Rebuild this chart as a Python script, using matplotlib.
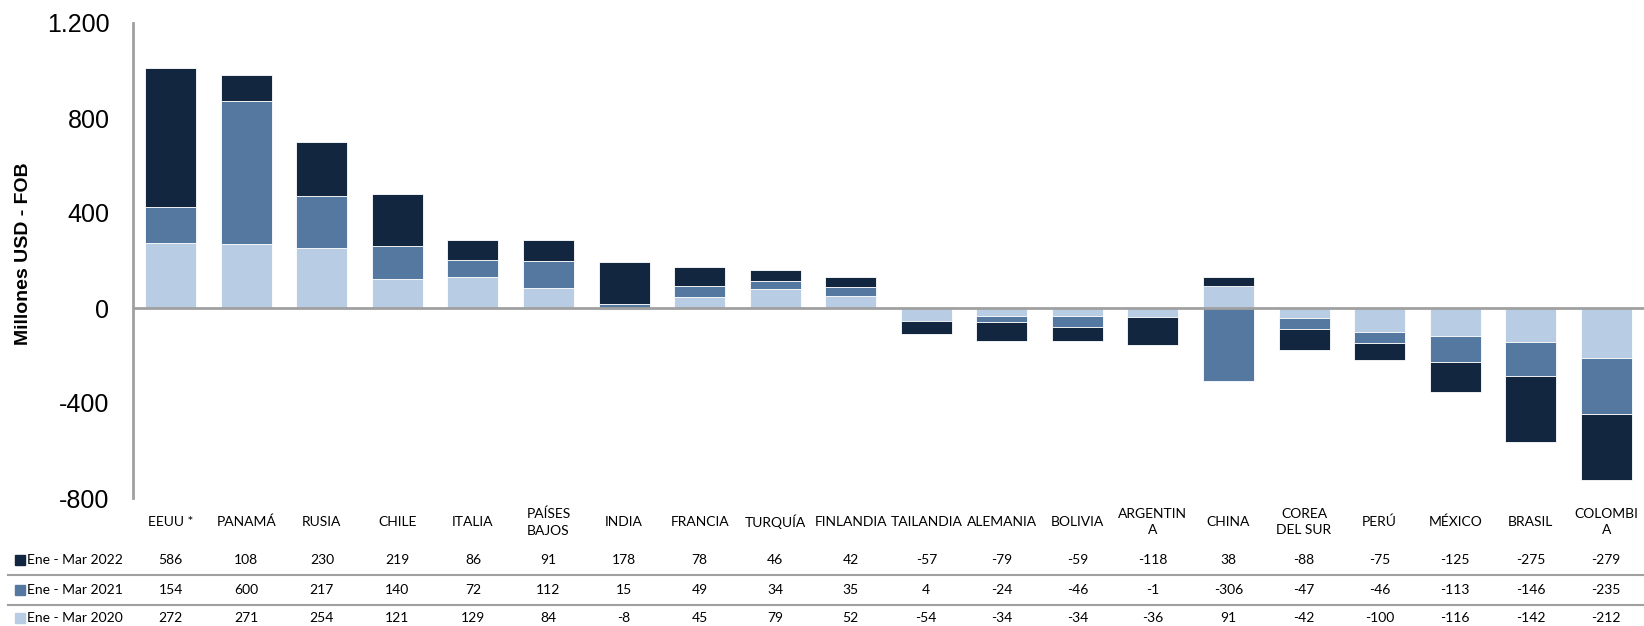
import numpy as np
import matplotlib.pyplot as plt
from matplotlib.patches import Rectangle
from matplotlib.lines import Line2D
from matplotlib.ticker import FuncFormatter
from matplotlib.transforms import blended_transform_factory

countries = ["EEUU *", "PANAMÁ", "RUSIA", "CHILE", "ITALIA", "PAÍSES\nBAJOS",
             "INDIA", "FRANCIA", "TURQUÍA", "FINLANDIA", "TAILANDIA", "ALEMANIA",
             "BOLIVIA", "ARGENTIN\nA", "CHINA", "COREA\nDEL SUR", "PERÚ",
             "MÉXICO", "BRASIL", "COLOMBI\nA"]
v2022 = [586, 108, 230, 219, 86, 91, 178, 78, 46, 42, -57, -79, -59, -118, 38,
         -88, -75, -125, -275, -279]
v2021 = [154, 600, 217, 140, 72, 112, 15, 49, 34, 35, 4, -24, -46, -1, -306,
         -47, -46, -113, -146, -235]
v2020 = [272, 271, 254, 121, 129, 84, -8, 45, 79, 52, -54, -34, -34, -36, 91,
         -42, -100, -116, -142, -212]
labels = ["Ene - Mar 2022", "Ene - Mar 2021", "Ene - Mar 2020"]
colors = ["#13263F", "#5578A0", "#B8CDE4"]

W, H = 1644, 626
fig = plt.figure(figsize=(W / 100, H / 100), dpi=100)
ax = fig.add_axes([133 / W, 1 - 498 / H, 1 - 133 / W, (498 - 23) / H])

x = np.arange(len(countries))
pos = np.zeros(len(x))
neg = np.zeros(len(x))
# stack order bottom-up: 2020, 2021, 2022 (positive and negative separately)
for vals, col in [(v2020, colors[2]), (v2021, colors[1]), (v2022, colors[0])]:
    vals = np.array(vals, dtype=float)
    bottom = np.where(vals >= 0, pos, neg)
    ax.bar(x, vals, 0.675, bottom=bottom, color=col, edgecolor="white", linewidth=0.6)
    pos = pos + np.clip(vals, 0, None)
    neg = neg + np.clip(vals, None, 0)

ax.set_xlim(-0.5, len(x) - 0.5)
ax.set_ylim(-800, 1200)
ax.set_yticks([-800, -400, 0, 400, 800, 1200])
ax.yaxis.set_major_formatter(FuncFormatter(lambda v, p: f"{int(v):,}".replace(",", ".")))
ax.tick_params(axis="y", length=0, pad=17, labelsize=18)
for t in ax.get_yticklabels():
    t.set_family("Liberation Sans")
ax.set_xticks([])
ax.axhline(0, color="#A0A0A0", lw=2, zorder=5)
for s in ["top", "right", "bottom"]:
    ax.spines[s].set_visible(False)
ax.spines["left"].set_color("#A0A0A0")
ax.spines["left"].set_linewidth(2)

fig.text(23 / W, 1 - 254 / H, "Millones USD - FOB", rotation=90, ha="center", va="center",
         fontsize=14, fontweight="bold", family="Liberation Sans")

tr = blended_transform_factory(ax.transData, fig.transFigure)
tfont = dict(family=["Lato", "DejaVu Sans"], fontsize=10)
for i, c in enumerate(countries):
    ax.text(i, 1 - 522 / H, c, transform=tr, ha="center", va="center",
            linespacing=1.5, **tfont)

rows_y = [560, 590, 618]
for r, (vals, lab, col) in enumerate(zip([v2022, v2021, v2020], labels, colors)):
    yf = 1 - rows_y[r] / H
    for i, v in enumerate(vals):
        ax.text(i, yf, str(v), transform=tr, ha="center", va="center", **tfont)
    fig.patches.append(Rectangle((15 / W, yf - 5 / H), 10 / W, 10 / H,
                                 transform=fig.transFigure, color=col))
    fig.text(27 / W, yf, lab, ha="left", va="center", **tfont)

for ly in [575, 605]:
    fig.lines.append(Line2D([8 / W, 1], [1 - ly / H] * 2, transform=fig.transFigure,
                            color="#A0A0A0", lw=1.5))

fig.savefig("out.png", dpi=100)
